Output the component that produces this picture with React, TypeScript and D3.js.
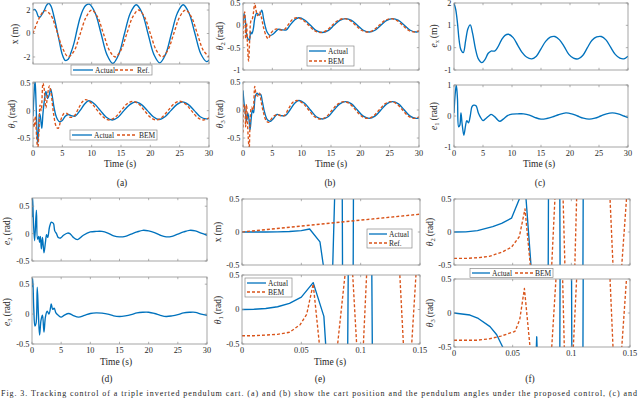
import React from 'react';
import * as d3 from 'd3';

type Pt = [number, number];

const BLUE = '#0072BD';
const ORANGE = '#D95319';
const FONT = "'Liberation Serif', 'DejaVu Serif', serif";

// ---------- tick values ----------
const longTimeTicks = [0, 5, 10, 15, 20, 25, 30];
const shortTimeTicks = [0, 0.05, 0.1, 0.15];
const ticksHalf = [-0.5, 0, 0.5];
const ticksX2 = [-2, 0, 2];
const ticksB2 = [-1, -0.5, 0, 0.5];
const ticksC1 = [-1, 0, 1, 2];
const ticksC2 = [-1, 0, 1];

// ---------- panel (a) ----------
const aXActual: Pt[] = [[0,2.0],[0.3,2.05],[0.6,1.85],[0.9,1.45],[1.2,1.4],[1.5,1.6],[1.9,1.95],[2.3,2.4],[2.7,2.58],[3.1,2.3],[3.5,1.6],[4.0,0.5],[4.5,-0.7],[5.0,-1.8],[5.5,-2.3],[6.0,-2.2],[6.5,-1.6],[7.0,-0.8],[7.5,0.3],[8.0,1.3],[8.5,2.0],[9.0,2.4],[9.6,2.5],[10.6,1.75],[11.6,0],[12.6,-1.8],[13.6,-2.55],[14.6,-1.8],[15.6,0],[16.6,1.75],[17.6,2.45],[18.6,1.75],[19.6,0],[20.6,-1.78],[21.6,-2.5],[22.6,-1.78],[23.6,0],[24.6,1.73],[25.6,2.45],[26.6,1.73],[27.6,0],[28.6,-1.73],[29.6,-2.4],[30,-2.25]];
const aXRef: Pt[] = [[0,0],[1,1.25],[2,1.95],[3,1.6],[4,0.3],[5,-1.2],[6,-1.98],[7,-1.5],[8,-0.1],[9,1.35],[10,2],[11,1.41],[12,0],[13,-1.41],[14,-2],[15,-1.41],[16,0],[17,1.41],[18,2],[19,1.41],[20,0],[21,-1.41],[22,-2],[23,-1.41],[24,0],[25,1.41],[26,2],[27,1.41],[28,0],[29,-1.41],[30,-2]];
const aTh1Actual: Pt[] = [[0,-0.1],[0.15,0.25],[0.35,0.55],[0.5,0.2],[0.65,-0.3],[0.8,-0.6],[0.95,-0.35],[1.1,-0.05],[1.25,-0.1],[1.5,-0.32],[1.7,-0.05],[1.9,0.15],[2.2,0.35],[2.5,0.22],[2.8,0.3],[3.0,0.4],[3.3,0.25],[3.6,0.05],[4.0,-0.12],[4.5,-0.2],[5.0,-0.18],[5.5,-0.1],[6.0,-0.07],[6.5,-0.09],[7.2,-0.1],[8.0,0.0],[8.8,0.12],[9.5,0.18],[10.5,0.12],[11.5,0.0],[12.5,-0.12],[13.5,-0.17],[14.5,-0.12],[15.5,0.0],[16.5,0.11],[17.5,0.16],[18.5,0.11],[19.5,0.0],[20.5,-0.11],[21.5,-0.16],[22.5,-0.11],[23.5,0.0],[24.5,0.11],[25.5,0.16],[26.5,0.11],[27.5,0.0],[28.5,-0.11],[29.5,-0.15],[30,-0.14]];
const aTh1BEM: Pt[] = [[0,-0.15],[0.2,-0.3],[0.4,-0.1],[0.6,-0.45],[0.8,-0.7],[1.0,-0.4],[1.2,0.1],[1.4,0.0],[1.7,0.5],[1.9,0.4],[2.2,0.05],[2.5,0.3],[2.8,0.45],[3.1,0.3],[3.5,-0.05],[4.0,-0.3],[4.3,-0.32],[4.8,-0.15],[5.3,-0.05],[5.8,-0.05],[6.3,-0.12],[7.0,-0.1],[7.8,0.05],[8.5,0.17],[9.0,0.2],[10,0.13],[11,0.0],[12,-0.12],[13,-0.17],[14,-0.12],[15,0.0],[16,0.12],[17,0.17],[18,0.12],[19,0.0],[20,-0.12],[21,-0.17],[22,-0.12],[23,0.0],[24,0.12],[25,0.17],[26,0.12],[27,0.0],[28,-0.12],[29,-0.17],[30,-0.13]];

// ---------- panel (b) ----------
const bTh2Actual: Pt[] = [[0,0.0],[0.17,0.26],[0.4,0.12],[0.6,-0.2],[0.85,-0.3],[1.1,-0.34],[1.3,-0.15],[1.5,-0.19],[1.76,-0.08],[2.0,0.15],[2.3,0.27],[2.8,0.23],[3.2,0.34],[3.5,0.15],[3.75,0.0],[4.1,-0.15],[4.6,-0.23],[5.2,-0.19],[6.0,-0.09],[6.6,-0.1],[7.4,-0.1],[8.0,0.0],[8.8,0.12],[9.5,0.17],[10.5,0.12],[11.5,0.0],[12.5,-0.12],[13.5,-0.16],[14.5,-0.12],[15.5,0],[16.5,0.11],[17.5,0.15],[18.5,0.11],[19.5,0],[20.5,-0.11],[21.5,-0.15],[22.5,-0.11],[23.5,0],[24.5,0.11],[25.5,0.15],[26.5,0.11],[27.5,0],[28.5,-0.11],[29.5,-0.15],[30,-0.14]];
const bTh2BEM: Pt[] = [[0,-0.3],[0.15,0.2],[0.3,0.3],[0.45,-0.3],[0.6,0.05],[0.75,-0.4],[0.95,-0.8],[1.15,-0.3],[1.35,0.1],[1.6,0.15],[1.8,0.3],[2.0,0.52],[2.2,0.35],[2.5,0.22],[2.8,0.3],[3.1,0.2],[3.5,-0.05],[4.0,-0.25],[4.3,-0.3],[4.8,-0.17],[5.3,-0.1],[5.8,-0.08],[6.3,-0.1],[7,-0.1],[7.8,0.03],[8.5,0.14],[9.2,0.17],[10.2,0.12],[11.2,0.0],[12.2,-0.12],[13.2,-0.16],[14.2,-0.12],[15.2,0],[16.2,0.11],[17.2,0.15],[18.2,0.11],[19.2,0],[20.2,-0.11],[21.2,-0.15],[22.2,-0.11],[23.2,0],[24.2,0.11],[25.2,0.15],[26.2,0.11],[27.2,0],[28.2,-0.11],[29.2,-0.15],[30,-0.12]];
const bTh3Actual: Pt[] = [[0,0.35],[0.2,0.1],[0.4,-0.05],[0.6,-0.2],[0.8,-0.05],[1.0,-0.15],[1.2,-0.35],[1.4,-0.15],[1.6,0.0],[1.8,-0.05],[2.1,0.25],[2.4,0.3],[2.7,0.27],[3.0,0.28],[3.3,0.15],[3.7,-0.05],[4.2,-0.18],[4.7,-0.2],[5.2,-0.15],[5.8,-0.08],[6.5,-0.1],[7.2,-0.1],[8,0.0],[8.8,0.12],[9.5,0.17],[10.5,0.12],[11.5,0.0],[12.5,-0.12],[13.5,-0.16],[14.5,-0.12],[15.5,0],[16.5,0.11],[17.5,0.15],[18.5,0.11],[19.5,0],[20.5,-0.11],[21.5,-0.15],[22.5,-0.11],[23.5,0],[24.5,0.11],[25.5,0.15],[26.5,0.11],[27.5,0],[28.5,-0.11],[29.5,-0.15],[30,-0.14]];
const bTh3BEM: Pt[] = [[0,-0.4],[0.15,0.1],[0.3,0.05],[0.45,-0.3],[0.6,0.1],[0.75,-0.2],[0.9,-0.5],[1.05,-0.7],[1.25,-0.1],[1.45,0.05],[1.7,0.0],[2.0,0.42],[2.2,0.3],[2.5,0.25],[2.8,0.3],[3.1,0.15],[3.5,-0.05],[4.0,-0.2],[4.4,-0.22],[4.9,-0.15],[5.4,-0.1],[5.9,-0.08],[6.4,-0.1],[7,-0.1],[7.8,0.03],[8.5,0.14],[9.2,0.17],[10.2,0.12],[11.2,0.0],[12.2,-0.12],[13.2,-0.16],[14.2,-0.12],[15.2,0],[16.2,0.11],[17.2,0.15],[18.2,0.11],[19.2,0],[20.2,-0.11],[21.2,-0.15],[22.2,-0.11],[23.2,0],[24.2,0.11],[25.2,0.15],[26.2,0.11],[27.2,0],[28.2,-0.11],[29.2,-0.15],[30,-0.12]];

// ---------- panel (c) ----------
const cEx: Pt[] = [[0,2.0],[0.3,1.7],[0.6,1.1],[0.9,0.3],[1.2,-0.1],[1.6,-0.22],[2.0,0.3],[2.4,0.85],[2.8,1.02],[3.2,0.65],[3.7,-0.05],[4.2,-0.5],[4.8,-0.67],[5.3,-0.55],[5.9,-0.25],[6.4,-0.15],[7.0,-0.15],[7.5,0.0],[8.2,0.35],[8.8,0.55],[9.4,0.6],[10.2,0.45],[11,0.1],[11.7,-0.2],[12.5,-0.42],[13.4,-0.5],[14.2,-0.38],[15,-0.05],[15.8,0.28],[16.6,0.47],[17.4,0.5],[18.2,0.35],[19,0.05],[19.8,-0.3],[20.6,-0.47],[21.4,-0.5],[22.2,-0.35],[23,0.0],[23.8,0.33],[24.6,0.48],[25.4,0.5],[26.2,0.35],[27,0.02],[27.8,-0.3],[28.6,-0.47],[29.3,-0.5],[30,-0.38]];
const cE1: Pt[] = [[0,0.1],[0.2,0.7],[0.4,1.0],[0.6,0.55],[0.8,-0.35],[1.0,-0.3],[1.2,0.1],[1.4,-0.25],[1.7,-0.62],[2.0,-0.3],[2.2,-0.15],[2.5,-0.22],[2.8,0.0],[3.1,0.3],[3.4,0.35],[3.8,0.33],[4.2,0.1],[4.6,-0.05],[5.0,-0.15],[5.5,-0.08],[6.0,0.0],[6.4,0.05],[7.0,-0.02],[7.5,-0.12],[7.9,-0.17],[8.5,-0.1],[9.3,0.02],[10,0.06],[11,0.07],[12,0.07],[13,0.03],[14,-0.05],[15,-0.1],[16,-0.08],[17,-0.03],[18,0.04],[19.3,0.1],[20.3,0.07],[21.3,0.0],[22.3,-0.07],[23.3,-0.1],[24.3,-0.07],[25.3,0.0],[26.3,0.07],[27.3,0.1],[28.3,0.07],[29.3,0.0],[30,-0.05]];

// ---------- panel (d) ----------
const dE2: Pt[] = [[0,0.3],[0.1,0.67],[0.25,0.2],[0.45,-0.13],[0.75,0.43],[0.95,-0.1],[1.15,-0.05],[1.3,-0.16],[1.45,-0.05],[1.6,-0.28],[1.8,-0.07],[2.05,-0.35],[2.3,-0.16],[2.5,-0.02],[2.7,-0.07],[3.0,0.12],[3.3,0.21],[3.5,0.2],[3.7,0.18],[3.9,0.05],[4.2,0.0],[4.5,-0.07],[4.9,-0.08],[5.4,-0.03],[6.1,0.01],[6.5,0.0],[7.0,-0.06],[7.8,-0.11],[8.8,-0.03],[10,0.03],[11,0.04],[12,0.04],[13,0.01],[14,-0.04],[15,-0.06],[16,-0.05],[17,-0.01],[18,0.03],[19,0.06],[20,0.05],[21,0.02],[22,-0.03],[23,-0.06],[24,-0.05],[25,-0.01],[26,0.03],[27,0.06],[28,0.05],[29,0.01],[30,-0.03]];
const dE3: Pt[] = [[0,0.45],[0.12,0.6],[0.3,0.1],[0.5,-0.2],[0.7,-0.15],[0.9,0.45],[1.1,0.0],[1.3,-0.35],[1.55,-0.1],[1.8,-0.02],[2.05,-0.3],[2.3,-0.05],[2.6,0.05],[2.9,0.0],[3.2,0.12],[3.3,0.17],[3.55,0.08],[3.8,0.1],[4.1,0.02],[4.5,-0.02],[5,-0.05],[5.5,-0.02],[6.3,0.01],[7,-0.02],[8,-0.05],[9,-0.02],[10,0.01],[11,0.02],[12,0.015],[13,0.0],[14,-0.03],[15,-0.04],[16,-0.03],[17,-0.01],[18,0.02],[19,0.03],[20,0.03],[21,0.01],[22,-0.02],[23,-0.04],[24,-0.03],[25,-0.01],[26,0.02],[27,0.03],[28,0.03],[29,0.0],[30,-0.02]];

// ---------- panel (e) ----------
const eXActual: Pt[] = [[0,0],[0.01,0],[0.02,0],[0.03,0.002],[0.04,0.008],[0.05,0.02],[0.057,0.045],[0.0657,-0.15],[0.0685,-0.5],[0.071,-1],[0.0757,-1],[0.0788,1],[0.0844,1],[0.0848,-1],[0.0936,-1],[0.094,1],[0.15,1]];
const eXRef: Pt[] = [[0,0],[0.15,0.27]];
const eTh1Actual: Pt[] = [[0,0],[0.01,0.003],[0.02,0.015],[0.03,0.04],[0.04,0.09],[0.05,0.18],[0.06,0.39],[0.069,-0.1],[0.0705,-0.5],[0.072,-1],[0.0889,-1],[0.0897,1],[0.1092,1],[0.11,-1],[0.15,-1]];
const eTh1BEM: Pt[] = [[0,-0.38],[0.01,-0.38],[0.02,-0.37],[0.03,-0.36],[0.04,-0.33],[0.049,-0.22],[0.0545,-0.07],[0.06,0.37],[0.0652,-0.5],[0.07,-1.2],[0.078,-1],[0.0806,-0.5],[0.0868,0.5],[0.09,1.2],[0.0933,0.5],[0.0966,-0.5],[0.0995,-1],[0.1023,-0.5],[0.105,0.5],[0.119,3],[0.133,0.5],[0.136,-0.5],[0.1395,-1],[0.143,-0.5],[0.1466,0.5],[0.15,1]];

// ---------- panel (f) ----------
const fTh2Actual: Pt[] = [[0,0],[0.01,0.003],[0.02,0.02],[0.033,0.08],[0.0406,0.13],[0.049,0.21],[0.0557,0.5],[0.058,0.7],[0.0614,0.5],[0.0656,-0.5],[0.068,-1],[0.0802,-1],[0.0806,1],[0.0901,1],[0.0905,-1],[0.1098,-1],[0.1102,1],[0.15,1]];
const fTh2BEM: Pt[] = [[0,-0.4],[0.01,-0.4],[0.02,-0.39],[0.03,-0.37],[0.0415,-0.3],[0.049,-0.23],[0.0557,-0.07],[0.0605,0.35],[0.065,-0.5],[0.07,-1.2],[0.08,-1],[0.0833,-0.5],[0.086,0.5],[0.0895,1.2],[0.093,0.5],[0.0945,-0.5],[0.099,-1],[0.103,-0.5],[0.1045,0.5],[0.12,3],[0.133,0.5],[0.1355,-0.5],[0.139,-1],[0.143,-0.5],[0.147,0.5],[0.15,1]];
const fTh3Actual: Pt[] = [[0,0],[0.0136,-0.03],[0.0207,-0.08],[0.0307,-0.2],[0.0364,-0.32],[0.0415,-0.5],[0.045,-1],[0.0698,-1],[0.0702,-0.5],[0.0705,-0.35],[0.0708,-0.5],[0.0712,-1],[0.0901,-1],[0.0905,1],[0.1001,1],[0.1005,-1],[0.1098,-1],[0.1102,1],[0.15,1]];
const fTh3BEM: Pt[] = [[0,-0.4],[0.02,-0.4],[0.03,-0.38],[0.04,-0.34],[0.052,-0.27],[0.056,-0.1],[0.06,0.36],[0.0648,-0.5],[0.07,-1.2],[0.08,-1],[0.0833,-0.5],[0.0869,0.5],[0.09,1.2],[0.0926,0.5],[0.094,-0.5],[0.098,-1],[0.1017,-0.5],[0.1045,0.5],[0.12,3],[0.133,0.5],[0.1355,-0.5],[0.139,-1],[0.143,-0.5],[0.147,0.5],[0.15,1]];

const captionText = 'Fig. 3.   Tracking control of a triple inverted pendulum cart. (a) and (b) show the cart position and the pendulum angles under the proposed control, (c) and';

// ---------- components ----------
interface Series { data: Pt[]; color: string; dashed?: boolean; smooth?: boolean }
interface LegendItem { label: string; color: string; dashed?: boolean }
interface LegendSpec { x: number; y: number; w: number; h: number; dir: 'h' | 'v'; items: LegendItem[]; offsets: number[]; lineLen: number }

function YLabel({ x, y, sym, sub, unit, italic }: { x: number; y: number; sym: string; sub?: string; unit: string; italic?: boolean }) {
  return (
    <text transform={`translate(${x},${y}) rotate(-90)`} textAnchor="middle" fontSize={9.5} fontFamily={FONT} fill="#262626">
      <tspan fontStyle={italic ? 'italic' : 'normal'}>{sym}</tspan>
      {sub ? <tspan fontSize={6.5} dy={2}>{sub}</tspan> : null}
      <tspan dy={sub ? -2 : 0}>{'\u2009(' + unit + ')'}</tspan>
    </text>
  );
}

function Legend({ spec }: { spec: LegendSpec }) {
  const { x, y, w, h, dir, items, offsets, lineLen } = spec;
  return (
    <g>
      <rect x={x} y={y} width={w} height={h} fill="white" stroke="#8a8a8a" strokeWidth={0.7} />
      {items.map((it, i) => {
        const lx = dir === 'h' ? x + offsets[i] : x + offsets[0] - 3;
        const ly = dir === 'h' ? y + h / 2 : y + offsets[i];
        return (
          <g key={i}>
            <line x1={lx} x2={lx + lineLen} y1={ly} y2={ly} stroke={it.color} strokeWidth={1.3} strokeDasharray={it.dashed ? '3,2' : undefined} />
            <text x={lx + lineLen + 2} y={ly + 2.6} fontSize={7.5} fontFamily={FONT} fill="#262626">{it.label}</text>
          </g>
        );
      })}
    </g>
  );
}

interface AxesProps {
  id: string;
  box: [number, number, number, number];
  xDomain: [number, number];
  yDomain: [number, number];
  xTicks: number[];
  yTicks: number[];
  xTickLabels: boolean;
  series: Series[];
}

function Axes({ id, box, xDomain, yDomain, xTicks, yTicks, xTickLabels, series }: AxesProps) {
  const [x0, y0, x1, y1] = box;
  const xs = d3.scaleLinear().domain(xDomain).range([x0, x1]);
  const ys = d3.scaleLinear().domain(yDomain).range([y1, y0]);
  const tl = 2.2;
  return (
    <g>
      <defs>
        <clipPath id={id}>
          <rect x={x0} y={y0} width={x1 - x0} height={y1 - y0} />
        </clipPath>
      </defs>
      <rect x={x0} y={y0} width={x1 - x0} height={y1 - y0} fill="white" />
      <g clipPath={`url(#${id})`}>
        {series.map((s, i) => {
          const gen = d3.line<Pt>().x(d => xs(d[0])).y(d => ys(d[1])).curve(s.smooth ? d3.curveCatmullRom.alpha(0.5) : d3.curveLinear);
          return <path key={i} d={gen(s.data) || ''} fill="none" stroke={s.color} strokeWidth={1.35} strokeDasharray={s.dashed ? '3,2' : undefined} strokeLinejoin="round" />;
        })}
      </g>
      <rect x={x0} y={y0} width={x1 - x0} height={y1 - y0} fill="none" stroke="#8f8f8f" strokeWidth={0.8} />
      {xTicks.map((t, i) => (
        <g key={'x' + i}>
          <line x1={xs(t)} x2={xs(t)} y1={y1} y2={y1 - tl} stroke="#8f8f8f" strokeWidth={0.7} />
          <line x1={xs(t)} x2={xs(t)} y1={y0} y2={y0 + tl} stroke="#8f8f8f" strokeWidth={0.7} />
          {xTickLabels ? <text x={xs(t)} y={y1 + 9} textAnchor="middle" fontSize={8.3} fontFamily={FONT} fill="#262626">{String(t)}</text> : null}
        </g>
      ))}
      {yTicks.map((t, i) => (
        <g key={'y' + i}>
          <line x1={x0} x2={x0 + tl} y1={ys(t)} y2={ys(t)} stroke="#8f8f8f" strokeWidth={0.7} />
          <line x1={x1} x2={x1 - tl} y1={ys(t)} y2={ys(t)} stroke="#8f8f8f" strokeWidth={0.7} />
          <text x={x0 - 2.5} y={ys(t) + 2.9} textAnchor="end" fontSize={8.3} fontFamily={FONT} fill="#262626">{String(t)}</text>
        </g>
      ))}
    </g>
  );
}

function Txt({ x, y, s, size = 9.5 }: { x: number; y: number; s: string; size?: number }) {
  return <text x={x} y={y} textAnchor="middle" fontSize={size} fontFamily={FONT} fill="#262626">{s}</text>;
}

const act = (data: Pt[], smooth = true): Series => ({ data, color: BLUE, smooth });
const bem = (data: Pt[], smooth = true): Series => ({ data, color: ORANGE, dashed: true, smooth });

export default function App() {
  const itActual = { label: 'Actual', color: BLUE };
  const itRef = { label: 'Ref.', color: ORANGE, dashed: true };
  const itBEM = { label: 'BEM', color: ORANGE, dashed: true };
  return (
    <svg width={640} height={399} viewBox="0 0 640 399" style={{ position: 'fixed', left: 0, top: 0, background: 'white' }}>
      <rect x={0} y={0} width={640} height={399} fill="white" />

      {/* (a) */}
      <Axes id="a1" box={[33, 3, 209, 64]} xDomain={[0, 30]} yDomain={[-2.6, 2.6]} xTicks={longTimeTicks} yTicks={ticksX2} xTickLabels={false} series={[act(aXActual), bem(aXRef)]} />
      <Axes id="a2" box={[33, 82, 209, 147]} xDomain={[0, 30]} yDomain={[-0.66, 0.52]} xTicks={longTimeTicks} yTicks={ticksHalf} xTickLabels={true} series={[act(aTh1Actual), bem(aTh1BEM)]} />
      <YLabel x={18} y={34} sym="x" unit="m" />
      <YLabel x={15} y={114} sym="θ" sub="1" unit="rad" italic />
      <Legend spec={{ x: 71, y: 65, w: 81, h: 10, dir: 'h', items: [itActual, itRef], offsets: [2, 44], lineLen: 20 }} />
      <Legend spec={{ x: 70, y: 130, w: 87, h: 10, dir: 'h', items: [itActual, itBEM], offsets: [2, 47], lineLen: 20 }} />
      <Txt x={120} y={167} s="Time (s)" />
      <Txt x={122} y={186} s="(a)" />

      {/* (b) */}
      <Axes id="b1" box={[243, 3, 419, 70]} xDomain={[0, 30]} yDomain={[-1, 0.5]} xTicks={longTimeTicks} yTicks={ticksB2} xTickLabels={false} series={[act(bTh2Actual), bem(bTh2BEM)]} />
      <Axes id="b2" box={[243, 82, 419, 147]} xDomain={[0, 30]} yDomain={[-0.66, 0.5]} xTicks={longTimeTicks} yTicks={ticksHalf} xTickLabels={true} series={[act(bTh3Actual), bem(bTh3BEM)]} />
      <YLabel x={223} y={36} sym="θ" sub="2" unit="rad" italic />
      <YLabel x={223} y={114} sym="θ" sub="3" unit="rad" italic />
      <Legend spec={{ x: 307, y: 46, w: 47, h: 20, dir: 'v', items: [itActual, itBEM], offsets: [5, 15], lineLen: 17 }} />
      <Txt x={331} y={167} s="Time (s)" />
      <Txt x={330} y={186} s="(b)" />

      {/* (c) */}
      <Axes id="c1" box={[454, 3, 628, 70]} xDomain={[0, 30]} yDomain={[-1, 2]} xTicks={longTimeTicks} yTicks={ticksC1} xTickLabels={false} series={[act(cEx)]} />
      <Axes id="c2" box={[454, 85, 628, 147]} xDomain={[0, 30]} yDomain={[-1, 1]} xTicks={longTimeTicks} yTicks={ticksC2} xTickLabels={true} series={[act(cE1)]} />
      <YLabel x={437} y={36} sym="e" sub="x" unit="m" italic />
      <YLabel x={437} y={116} sym="e" sub="1" unit="rad" italic />
      <Txt x={539} y={167} s="Time (s)" />
      <Txt x={540} y={186} s="(c)" />

      {/* (d) */}
      <Axes id="d1" box={[32, 198, 207, 261]} xDomain={[0, 30]} yDomain={[-0.5, 0.65]} xTicks={longTimeTicks} yTicks={ticksHalf} xTickLabels={false} series={[act(dE2)]} />
      <Axes id="d2" box={[32, 277, 207, 344]} xDomain={[0, 30]} yDomain={[-0.5, 0.62]} xTicks={longTimeTicks} yTicks={ticksHalf} xTickLabels={true} series={[act(dE3)]} />
      <YLabel x={10} y={231} sym="e" sub="2" unit="rad" italic />
      <YLabel x={10} y={312} sym="e" sub="3" unit="rad" italic />
      <Txt x={116} y={365} s="Time (s)" />
      <Txt x={107} y={382} s="(d)" />

      {/* (e) */}
      <Axes id="e1" box={[242, 199, 420, 265]} xDomain={[0, 0.15]} yDomain={[-0.5, 0.5]} xTicks={shortTimeTicks} yTicks={ticksHalf} xTickLabels={false} series={[act(eXActual, false), bem(eXRef, false)]} />
      <Axes id="e2" box={[242, 275, 420, 344]} xDomain={[0, 0.15]} yDomain={[-0.5, 0.5]} xTicks={shortTimeTicks} yTicks={ticksHalf} xTickLabels={true} series={[act(eTh1Actual, false), bem(eTh1BEM, false)]} />
      <YLabel x={221} y={232} sym="x" unit="m" />
      <YLabel x={221} y={310} sym="θ" sub="1" unit="rad" italic />
      <Legend spec={{ x: 367, y: 229, w: 45, h: 19, dir: 'v', items: [itActual, itRef], offsets: [5, 14], lineLen: 18 }} />
      <Legend spec={{ x: 245, y: 278, w: 47, h: 19, dir: 'v', items: [itActual, itBEM], offsets: [5, 14], lineLen: 19 }} />
      <Txt x={330} y={365} s="Time (s)" />
      <Txt x={320} y={382} s="(e)" />

      {/* (f) */}
      <Axes id="f1" box={[454, 199, 630, 265]} xDomain={[0, 0.15]} yDomain={[-0.5, 0.5]} xTicks={shortTimeTicks} yTicks={ticksHalf} xTickLabels={false} series={[act(fTh2Actual, false), bem(fTh2BEM, false)]} />
      <Axes id="f2" box={[454, 279, 630, 347]} xDomain={[0, 0.15]} yDomain={[-0.5, 0.5]} xTicks={shortTimeTicks} yTicks={ticksHalf} xTickLabels={true} series={[act(fTh3Actual, false), bem(fTh3BEM, false)]} />
      <YLabel x={433} y={232} sym="θ" sub="2" unit="rad" italic />
      <YLabel x={433} y={313} sym="θ" sub="3" unit="rad" italic />
      <Legend spec={{ x: 470, y: 268.5, w: 83, h: 9, dir: 'h', items: [itActual, itBEM], offsets: [2, 45], lineLen: 18 }} />
      <Txt x={530} y={382} s="(f)" />

      <text x={1} y={396} fontSize={8} fontFamily={FONT} fill="#262626" textLength={636} lengthAdjust="spacing">{captionText}</text>
    </svg>
  );
}
